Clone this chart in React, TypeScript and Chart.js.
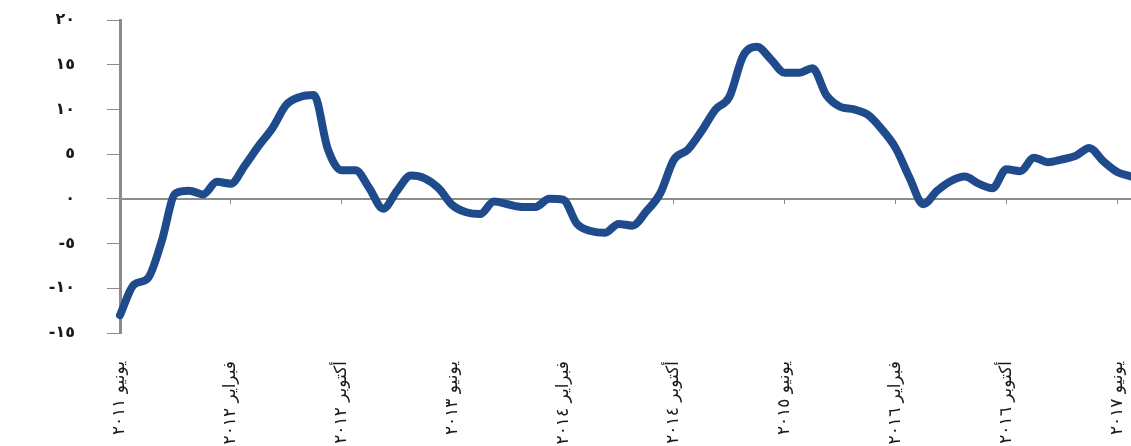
import React, { useEffect, useRef } from 'react';
import { Chart, registerables } from 'chart.js';

Chart.register(...registerables);

// Category axis: monthly, June 2011 onward
const monthNames = ['يناير', 'فبراير', 'مارس', 'أبريل', 'مايو', 'يونيو', 'يوليو', 'أغسطس', 'سبتمبر', 'أكتوبر', 'نوفمبر', 'ديسمبر'];
const startYear = 2011;
const startMonthIndex = 5; // يونيو
const labelEvery = 8;

// Series values, one per month
const values = [
  -13.0, -9.6, -8.9, -4.8, 0.6, 0.9, 0.5, 1.9, 1.7, 3.7,
  5.9, 7.9, 10.5, 11.4, 11.6, 5.6, 3.2, 3.2, 1.2, -1.1,
  0.9, 2.6, 2.3, 1.2, -0.7, -1.5, -1.7, -0.3, -0.6, -0.9,
  -0.9, 0.0, -0.1, -2.8, -3.6, -3.8, -2.8, -3.0, -1.4, 0.6,
  4.4, 5.5, 7.6, 10.0, 11.4, 16.0, 17.0, 15.6, 14.1, 14.1,
  14.6, 11.6, 10.3, 10.0, 9.4, 7.8, 5.7, 2.4, -0.6, 0.9,
  2.0, 2.5, 1.7, 1.2, 3.3, 3.1, 4.6, 4.1, 4.4, 4.8,
  5.7, 4.2, 3.0, 2.5,
];

// Y tick labels (Arabic-Indic digits)
const yTickValues = [20, 15, 10, 5, 0, -5, -10, -15];
const yTickLabels = ['٢٠', '١٥', '١٠', '٥', '٠', '-٥', '-١٠', '-١٥'];

const arabicDigits = ['٠', '١', '٢', '٣', '٤', '٥', '٦', '٧', '٨', '٩'];
const toArabicDigits = (n: number) => String(n).split('').map((d) => arabicDigits[Number(d)]).join('');

const categories: string[] = values.map((_, i) => {
  const m = startMonthIndex + i;
  const year = startYear + Math.floor(m / 12);
  return monthNames[m % 12] + ' ' + toArabicDigits(year);
});

const LINE_COLOR = '#1F4B8C';
const AXIS_GRAY = '#8c8c8c';
const TEXT_COLOR = '#1a1a1a';

export default function App() {
  const canvasRef = useRef<HTMLCanvasElement | null>(null);

  useEffect(() => {
    const canvas = canvasRef.current;
    if (!canvas) return;
    const chart = new Chart(canvas, {
      type: 'line',
      data: {
        labels: categories,
        datasets: [
          {
            data: values,
            xAxisID: 'x',
            yAxisID: 'y',
            borderColor: LINE_COLOR,
            borderWidth: 8,
            pointRadius: 0,
            fill: false,
            cubicInterpolationMode: 'monotone',
            borderCapStyle: 'round',
            borderJoinStyle: 'round',
          },
        ],
      },
      options: {
        responsive: false,
        animation: false,
        devicePixelRatio: 1,
        layout: { padding: { top: 20, left: 0, right: 0, bottom: 0 } },
        plugins: {
          legend: { display: false },
          tooltip: { enabled: false },
        },
        scales: {
          x: {
            type: 'category',
            position: 'bottom',
            grid: { display: false },
            border: { display: false },
            ticks: {
              autoSkip: false,
              minRotation: 90,
              maxRotation: 90,
              padding: 20,
              color: TEXT_COLOR,
              font: { family: 'DejaVu Sans', size: 17 },
              callback: (_v: any, i: number) => (i % labelEvery === 0 ? categories[i] : ''),
            },
            afterFit: (scale: any) => {
              scale.height = 113;
              scale.paddingLeft = 0;
              scale.paddingRight = 0;
              scale.paddingTop = 0;
              scale.paddingBottom = 0;
            },
          },
          x0: {
            type: 'category',
            position: { y: 0 },
            border: { display: true, color: AXIS_GRAY, width: 2 },
            grid: {
              drawOnChartArea: false,
              drawTicks: true,
              tickLength: 4,
              color: (ctx: any) => (ctx.index % labelEvery === 0 ? AXIS_GRAY : 'rgba(0,0,0,0)'),
            },
            ticks: { display: false, autoSkip: false },
            afterFit: (scale: any) => {
              scale.height = 0;
              scale.paddingLeft = 0;
              scale.paddingRight = 0;
              scale.paddingTop = 0;
              scale.paddingBottom = 0;
            },
          },
          y: {
            type: 'linear',
            min: -15,
            max: 20,
            position: 'left',
            border: { display: true, color: AXIS_GRAY, width: 3 },
            grid: {
              drawOnChartArea: false,
              drawTicks: true,
              tickLength: 13,
              color: AXIS_GRAY,
            },
            ticks: {
              stepSize: 5,
              padding: 32,
              color: TEXT_COLOR,
              font: { family: 'DejaVu Sans', size: 16, weight: 'bold' },
              callback: (v: any) => {
                const k = yTickValues.indexOf(Number(v));
                return k >= 0 ? yTickLabels[k] : '';
              },
            },
            afterFit: (scale: any) => {
              scale.width = 120;
              scale.paddingTop = 0;
              scale.paddingBottom = 0;
            },
          },
        },
      } as any,
    });
    return () => chart.destroy();
  }, []);

  return (
    <div style={{ position: 'fixed', left: 0, top: 0, width: 1131, height: 446, overflow: 'hidden', background: '#ffffff' }}>
      <canvas ref={canvasRef} width={1131} height={446} style={{ display: 'block' }} />
    </div>
  );
}
